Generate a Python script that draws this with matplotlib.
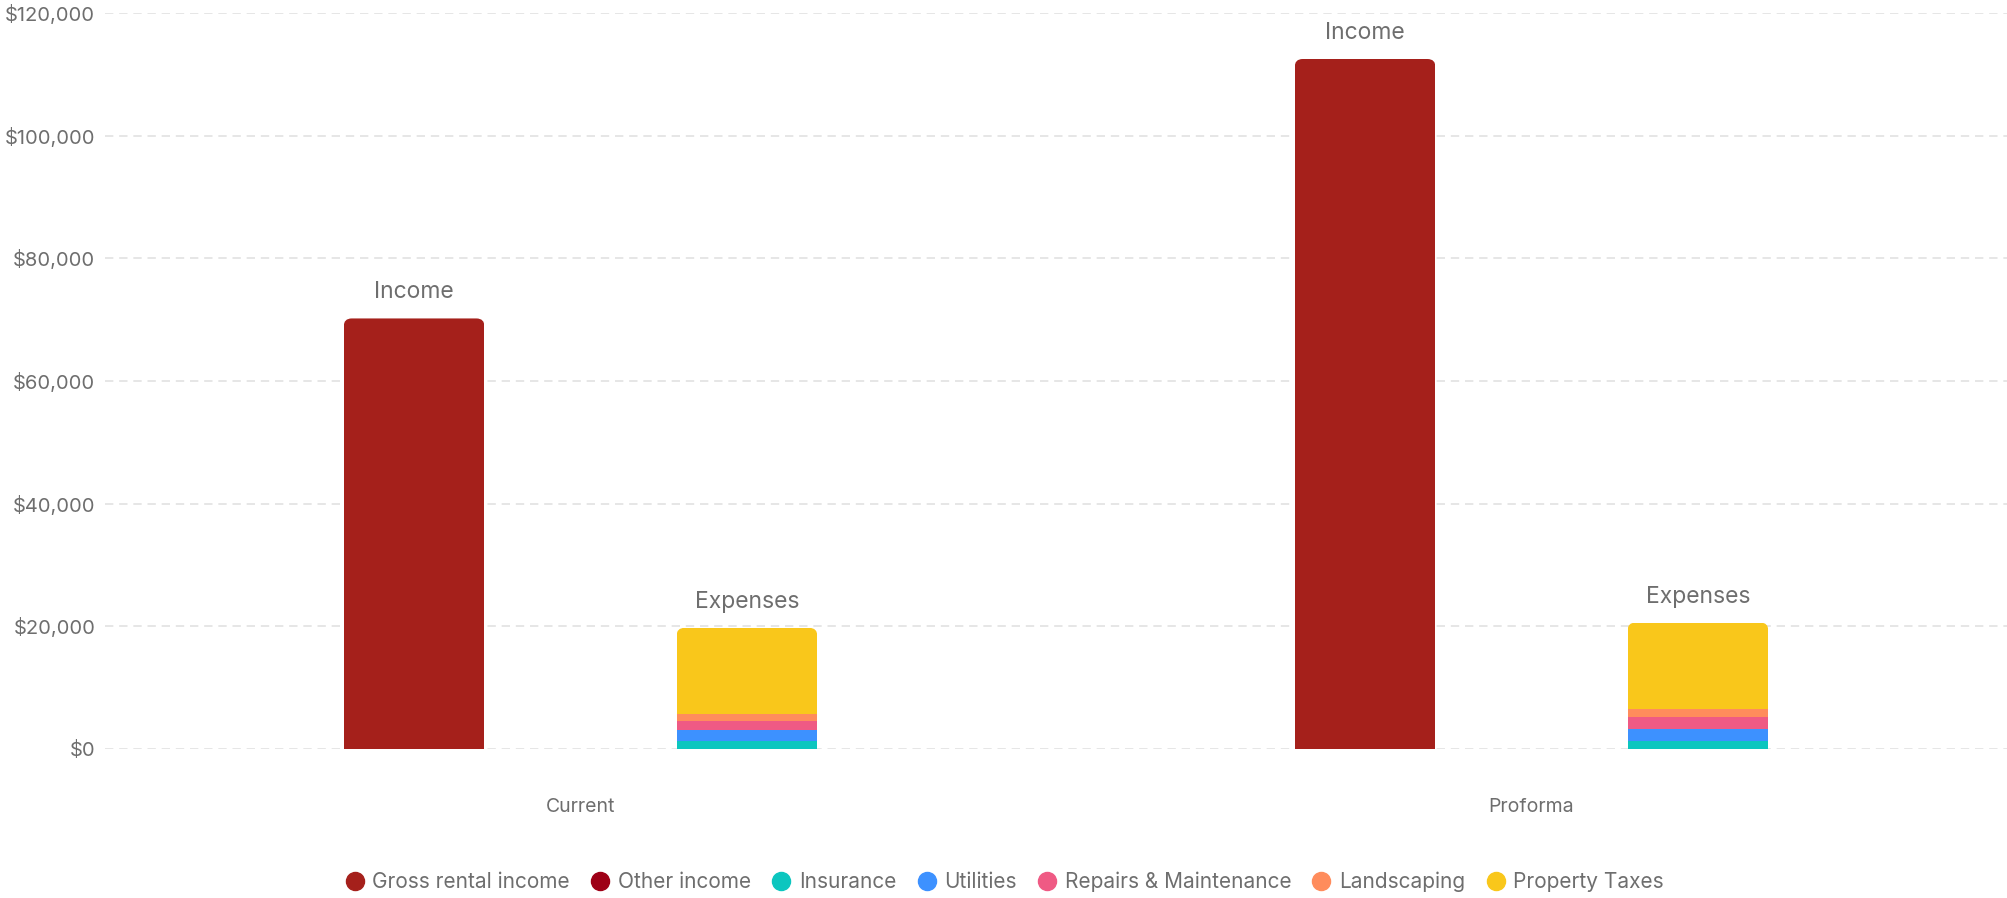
import matplotlib
matplotlib.use("Agg")
import matplotlib.pyplot as plt
from matplotlib.patches import FancyBboxPatch
from matplotlib.lines import Line2D
from matplotlib.ticker import FuncFormatter

plt.rcParams["font.family"] = ["Inter", "DejaVu Sans"]

# --- data --------------------------------------------------------------------
categories = ["Current", "Proforma"]
income_series = ["Gross rental income", "Other income"]
income_values = [[70200, 112500],   # gross rental income
                 [0, 0]]            # other income
expense_series = ["Insurance", "Utilities", "Repairs & Maintenance",
                  "Landscaping", "Property Taxes"]
expense_values = [[1250, 1250],     # insurance
                  [1850, 1950],     # utilities
                  [1400, 2070],     # repairs & maintenance
                  [1200, 1250],     # landscaping
                  [14050, 14100]]   # property taxes
yticks = [0, 20000, 40000, 60000, 80000, 100000, 120000]

COLORS = {
    "Gross rental income": "#A5201B",
    "Other income": "#9E0016",
    "Insurance": "#0CC6BF",
    "Utilities": "#3D91FF",
    "Repairs & Maintenance": "#EF5A84",
    "Landscaping": "#FF8C5C",
    "Property Taxes": "#F9C71B",
}
TEXT = "#6e6e6e"

W, H, DPI = 2007, 898, 100
fig = plt.figure(figsize=(W / DPI, H / DPI), dpi=DPI)
ax_l, ax_b = 105 / W, 1 - 749 / H
ax = fig.add_axes([ax_l, ax_b, 1 - ax_l, (749 - 13) / H])
ax.set_xlim(-0.5, 1.5)
ax.set_ylim(0, 120000)

bw, off = 0.148, 0.175
# px -> data conversion for rounded corners
x_per_px = 2.0 / (W - 105)
y_per_px = 120000 / (749 - 13)
r_px = 8


def stack(xc, series, values, i, label):
    bottom = 0
    bars = []
    for name, vals in zip(series, values):
        v = vals[i]
        b = ax.bar(xc, v, bw, bottom=bottom, color=COLORS[name], lw=0, zorder=3)
        bars.extend(b.patches)
        bottom += v
    # rounded top corners: clip the stack with a rounded box
    clip = FancyBboxPatch((xc - bw / 2, -20000), bw, bottom + 20000,
                          boxstyle=f"round,pad=0,rounding_size={r_px * x_per_px}",
                          mutation_aspect=y_per_px / x_per_px,
                          transform=ax.transData, facecolor="none", edgecolor="none")
    for p in bars:
        p.set_clip_path(clip)
    ax.text(xc, bottom + 15 * y_per_px, label, ha="center", va="bottom",
            fontsize=16.5, color=TEXT, zorder=4)


for i, cat in enumerate(categories):
    stack(i - off, income_series, income_values, i, "Income")
    stack(i + off, expense_series, expense_values, i, "Expenses")

ax.set_yticks(yticks)
ax.yaxis.set_major_formatter(FuncFormatter(lambda v, _: f"${v:,.0f}"))
ax.set_xticks(range(len(categories)))
ax.set_xticklabels(categories)
ax.tick_params(axis="y", length=0, pad=7, labelsize=14.5, labelcolor=TEXT)
ax.tick_params(axis="x", length=0, pad=35, labelsize=14, labelcolor=TEXT)
ax.grid(axis="y", color="#e2e2e2", lw=1.2, linestyle=(0, (5, 3.5)), zorder=0)
ax.set_axisbelow(True)
for s in ax.spines.values():
    s.set_visible(False)

handles = [Line2D([], [], marker="o", ls="none", ms=13, color=COLORS[n], label=n)
           for n in income_series + expense_series]
fig.legend(handles=handles, loc="center", bbox_to_anchor=(0.5, 1 - 882 / H),
           ncol=7, frameon=False, fontsize=15, labelcolor=TEXT,
           handletextpad=0.3, columnspacing=0.9, handlelength=1.1)

fig.savefig("out.png", dpi=DPI)
